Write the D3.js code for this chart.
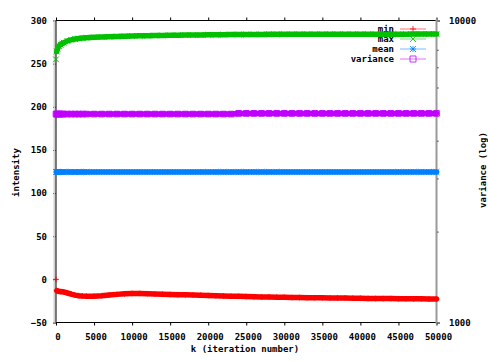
<!DOCTYPE html>
<html>
<head>
<meta charset="utf-8">
<script src="https://cdn.jsdelivr.net/npm/d3@7"></script>
<style>
  html, body { margin: 0; padding: 0; background: #fff; }
  svg { display: block; }
  text { font-family: "DejaVu Sans Mono", "Liberation Mono", monospace; font-weight: bold; font-size: 9px; fill: #000; }
</style>
</head>
<body>
<svg id="chart" width="488" height="362"></svg>
<script>
// Sampled iteration numbers
const iterations = [0, 100, 200, 400, 600, 800, 1000, 1500, 2000, 2500, 3000, 3500, 4000,
  5000, 6000, 7000, 8000, 9000, 10000, 11000, 12000, 13000, 14000,
  15000, 16000, 17000, 18000, 19000, 20000, 21000, 22000, 23000, 24000,
  25000, 26000, 27000, 28000, 29000, 30000, 31000, 32000, 33000, 34000,
  35000, 36000, 37000, 38000, 39000, 40000, 41000, 42000, 43000, 44000,
  45000, 46000, 47000, 48000, 49000, 50000];

// Intensity statistics per sample
const minVals = [0, -13, -13.5, -14, -14.2, -14.3, -14.5, -15.8, -17.2, -18.3, -19, -19.4, -19.6,
  -19.5, -19, -18.2, -17.4, -16.8, -16.4, -16.3, -16.6, -17, -17.3,
  -17.5, -17.7, -17.9, -18.1, -18.4, -18.7, -19, -19.3, -19.5, -19.7,
  -19.9, -20.2, -20.4, -20.5, -20.6, -20.7, -21, -21.1, -21.2, -21.3,
  -21.4, -21.5, -21.6, -21.7, -21.8, -22, -22.1, -22.2, -22.3, -22.3,
  -22.4, -22.5, -22.6, -22.6, -22.7, -22.8];

const maxVals = [255, 264, 267.5, 270.5, 272, 273.3, 274.3, 276.3, 277.6, 278.5, 279.1, 279.6, 280,
  280.5, 280.9, 281.2, 281.5, 281.8, 282, 282.2, 282.4, 282.5, 282.7,
  282.9, 283, 283.1, 283.2, 283.3, 283.4, 283.5, 283.6, 283.7, 283.8,
  283.8, 283.9, 283.9, 284, 284, 284, 284.1, 284.1, 284.1, 284.1,
  284.2, 284.2, 284.2, 284.2, 284.2, 284.2, 284.2, 284.2, 284.2, 284.2,
  284.2, 284.2, 284.3, 284.3, 284.3, 284.3];

const meanVals = [124.5, 124.5, 124.5, 124.5, 124.5, 124.5, 124.5, 124.5, 124.5, 124.5, 124.5, 124.5, 124.5,
  124.5, 124.5, 124.5, 124.5, 124.5, 124.5, 124.5, 124.5, 124.5, 124.5,
  124.5, 124.5, 124.5, 124.5, 124.5, 124.5, 124.5, 124.5, 124.5, 124.5,
  124.5, 124.5, 124.5, 124.5, 124.5, 124.5, 124.5, 124.5, 124.5, 124.5,
  124.5, 124.5, 124.5, 124.5, 124.5, 124.5, 124.5, 124.5, 124.5, 124.5,
  124.5, 124.5, 124.5, 124.5, 124.5, 124.5];

// Variance, plotted on the logarithmic y2 axis
const varianceVals = [4900, 4900, 4900, 4900, 4900, 4900, 4900, 4900, 4900, 4900, 4900, 4900, 4900,
  4900, 4900, 4900, 4900, 4900, 4900, 4900, 4900, 4900, 4900,
  4900, 4900, 4900, 4900, 4900, 4900, 4900, 4900, 4900, 4925,
  4925, 4925, 4925, 4925, 4925, 4925, 4925, 4925, 4925, 4925,
  4925, 4925, 4925, 4925, 4925, 4925, 4925, 4925, 4925, 4925,
  4925, 4925, 4925, 4925, 4925, 4925];

const xTicks = [0, 5000, 10000, 15000, 20000, 25000, 30000, 35000, 40000, 45000, 50000];
const yTicks = [-50, 0, 50, 100, 150, 200, 250, 300];
const y2Ticks = [1000, 10000];
const y2MinorTicks = [2000, 3000, 4000, 5000, 6000, 7000, 8000, 9000];
const seriesNames = ["min", "max", "mean", "variance"];
const seriesColors = ["#ff0000", "#00c000", "#0080ff", "#c000ff"];
const seriesSymbols = ["plus", "cross", "star", "square"];

const svg = d3.select("#chart");
const plot = { left: 56, right: 436.5, top: 20.5, bottom: 322.5 };

const x = d3.scaleLinear().domain([0, 50000]).range([plot.left, plot.right]);
const y = d3.scaleLinear().domain([-50, 300]).range([plot.bottom, plot.top]);
const y2 = d3.scaleLog().domain([1000, 10000]).range([plot.bottom, plot.top]);

// Point symbols (gnuplot style)
function symbolPath(kind, s) {
  const p = d3.path();
  if (kind === "plus" || kind === "star") {
    p.moveTo(-s, 0); p.lineTo(s, 0); p.moveTo(0, -s); p.lineTo(0, s);
  }
  if (kind === "cross" || kind === "star") {
    p.moveTo(-s, -s); p.lineTo(s, s); p.moveTo(-s, s); p.lineTo(s, -s);
  }
  if (kind === "square") {
    p.rect(-s, -s, 2 * s, 2 * s);
  }
  return p.toString();
}

// Axes
const axisY = d3.axisLeft(y).tickValues(yTicks).tickSize(3).tickPadding(6).tickFormat(d3.format("d"));
const gy = svg.append("g").attr("transform", `translate(${plot.left},0)`).call(axisY);

const axisX = d3.axisBottom(x).tickValues(xTicks).tickSize(3).tickPadding(8).tickFormat(d3.format("d"));
const gx = svg.append("g").attr("transform", `translate(0,${plot.bottom})`).call(axisX);
gx.selectAll(".tick text").attr("dx", 1.5);

const axisXTop = d3.axisTop(x).tickValues(xTicks).tickSize(3).tickFormat("");
const gxt = svg.append("g").attr("transform", `translate(0,${plot.top})`).call(axisXTop);

const axisY2 = d3.axisRight(y2).tickValues(y2Ticks).tickSize(3.5).tickPadding(9).tickFormat(d3.format("d"));
const gy2 = svg.append("g").attr("transform", `translate(${plot.right},0)`).call(axisY2);
const axisY2Minor = d3.axisRight(y2).tickValues(y2MinorTicks).tickSize(2).tickFormat("");
const gy2m = svg.append("g").attr("transform", `translate(${plot.right},0)`).call(axisY2Minor);

[gy, gx, gxt, gy2, gy2m].forEach(g => {
  g.select(".domain").remove();
  g.selectAll(".tick line").attr("stroke", "#000").attr("stroke-width", 1);
  g.selectAll(".tick text").attr("fill", "#000")
    .style("font-family", "'DejaVu Sans Mono', monospace")
    .style("font-weight", "bold").style("font-size", "9px");
});

// Frame: dark left/bottom/top, gray right edge, light strip along the left edge
svg.append("line").attr("x1", plot.left - 1.5).attr("x2", plot.left - 1.5)
  .attr("y1", plot.top).attr("y2", plot.bottom).attr("stroke", "#cfcfcf").attr("stroke-width", 2);
svg.append("line").attr("x1", plot.left).attr("x2", plot.left)
  .attr("y1", plot.top).attr("y2", plot.bottom).attr("stroke", "#000");
svg.append("line").attr("x1", plot.left).attr("x2", plot.right)
  .attr("y1", plot.top).attr("y2", plot.top).attr("stroke", "#000");
svg.append("line").attr("x1", plot.left).attr("x2", plot.right)
  .attr("y1", plot.bottom).attr("y2", plot.bottom).attr("stroke", "#000");
svg.append("line").attr("x1", plot.right).attr("x2", plot.right)
  .attr("y1", plot.top - 1).attr("y2", plot.bottom + 1).attr("stroke", "#9a9a9a").attr("stroke-width", 2);

// Axis titles
svg.append("text").attr("text-anchor", "middle")
  .attr("transform", "translate(18.5,172.5) rotate(-90)").text("intensity");
svg.append("text").attr("text-anchor", "middle")
  .attr("x", 245).attr("y", 352).text("k (iteration number)");
svg.append("text").attr("text-anchor", "middle")
  .attr("transform", "translate(485.5,170) rotate(-90)").text("variance (log)");

// Legend
const legend = svg.append("g");
seriesNames.forEach((name, i) => {
  const ly = 29 + i * 10;
  legend.append("text").attr("x", 394).attr("y", ly).attr("dy", "0.32em")
    .attr("text-anchor", "end").text(name);
  legend.append("line").attr("x1", 400).attr("x2", 426).attr("y1", ly).attr("y2", ly)
    .attr("stroke", seriesColors[i]).attr("stroke-opacity", 0.55);
  legend.append("path").attr("transform", `translate(413,${ly})`)
    .attr("d", symbolPath(seriesSymbols[i], 3))
    .attr("fill", "none").attr("stroke", seriesColors[i]).attr("stroke-opacity", 0.8);
});

// Series: dense samples drawn as a heavy band with point symbols on top;
// the k = 0 sample stands alone as a symbol.
const series = [
  { values: minVals, scale: y },
  { values: maxVals, scale: y },
  { values: meanVals, scale: y },
  { values: varianceVals, scale: y2 }
];

series.forEach((s, i) => {
  const pts = iterations.map((k, j) => [x(k), s.scale(s.values[j])]);
  const g = svg.append("g");
  g.append("path")
    .attr("d", d3.line()(pts.slice(1)))
    .attr("fill", "none").attr("stroke", seriesColors[i])
    .attr("stroke-width", 5.5).attr("stroke-linejoin", "round").attr("stroke-linecap", "round");
  g.selectAll("path.pt").data(pts).join("path").attr("class", "pt")
    .attr("transform", d => `translate(${d[0]},${d[1]})`)
    .attr("d", symbolPath(seriesSymbols[i], 2.8))
    .attr("fill", "none").attr("stroke", seriesColors[i]).attr("stroke-width", 1);
});
</script>
</body>
</html>
